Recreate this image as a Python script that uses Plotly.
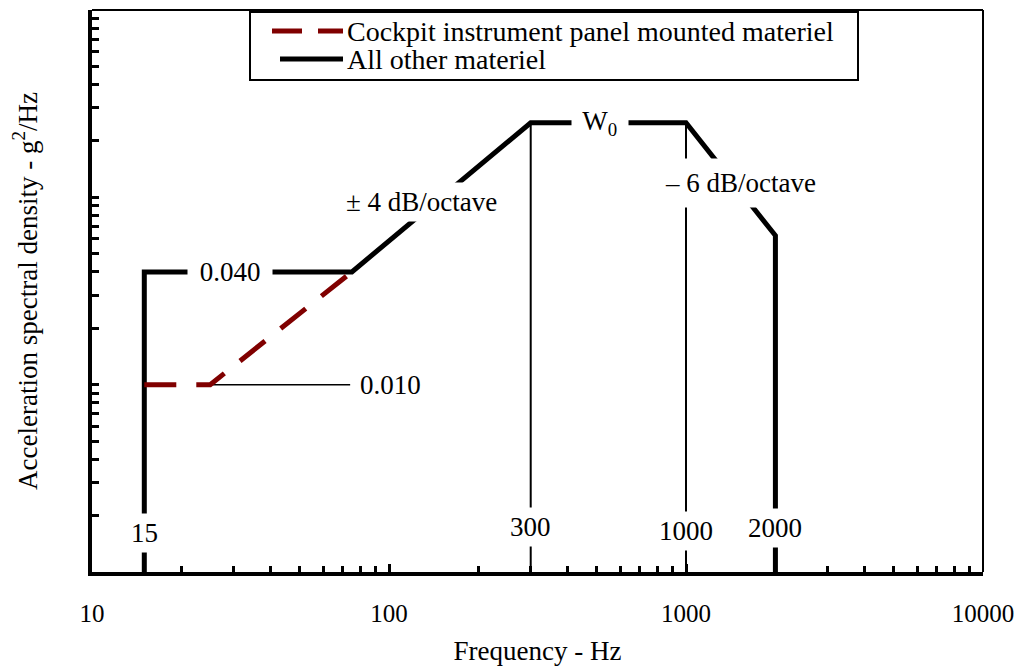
import plotly.graph_objects as go
import numpy as np

# ---- data ----
W0 = 0.25
freq_other = [15, 15, 75, 300, 1000, 2000, 2000]
psd_other = [0.001, 0.04, 0.04, W0, W0, 0.0625, 0.001]

freq_cockpit = [15, 25, 75]
psd_cockpit = [0.01, 0.01, 0.04]

ref_freq = [25, 74]
ref_psd = [0.01, 0.01]

marker_freqs = [300, 1000]      # thin vertical guide lines
marker_top = [W0, W0]

x_tick_vals = [10, 100, 1000, 10000]
x_tick_text = ["10", "100", "1000", "10000"]

legend_names = ["Cockpit instrument panel mounted materiel", "All other materiel"]

FONT = "Liberation Serif"
FS = 27

W, H = 1021, 666
# plot area in pixels
L, R, T, B = 92, 983, 10, 572


def xp(px):
    return (px - L) / (R - L)


def yp(py):
    return (B - py) / (B - T)


fig = go.Figure()

# thin guide lines
for f, top in zip(marker_freqs, marker_top):
    fig.add_trace(go.Scatter(x=[f, f], y=[top, 0.001], mode="lines",
                             line=dict(color="black", width=2),
                             showlegend=False, hoverinfo="skip"))
fig.add_trace(go.Scatter(x=ref_freq, y=ref_psd, mode="lines",
                         line=dict(color="black", width=1.5),
                         showlegend=False, hoverinfo="skip"))

# main curves
fig.add_trace(go.Scatter(x=freq_other, y=psd_other, mode="lines",
                         name=legend_names[1],
                         line=dict(color="black", width=5),
                         showlegend=False))
fig.add_trace(go.Scatter(x=freq_cockpit, y=psd_cockpit, mode="lines",
                         name=legend_names[0],
                         line=dict(color="#800000", width=5, dash="32px,20px"),
                         showlegend=False))

# in-plot labels (position: log10 freq, log10 psd)
labels = [
    (" 0.040 ", np.log10(29.2), np.log10(0.04), 5, True),
    ("± 4 dB/octave", np.log10(129), -1.025, 4, True),
    (" W<sub>0</sub> ", np.log10(513), np.log10(W0), 4, True),
    ("– 6 dB/octave", np.log10(1520), -0.923, 9, True),
    ("15", np.log10(15), -2.792, 4, True),
    ("300", np.log10(300), -2.76, 4, True),
    ("1000", np.log10(1000), -2.781, 4, True),
    ("2000", np.log10(2000), -2.765, 4, True),
    ("0.010", np.log10(101), np.log10(0.01), 0, False),
]
for txt, x, y, pad, bg in labels:
    fig.add_annotation(x=x, y=y, xref="x", yref="y", text=txt, showarrow=False,
                       font=dict(family=FONT, size=FS, color="black"),
                       bgcolor="white" if bg else None, borderpad=pad)

# frame top / right (thin)
fig.add_shape(type="line", xref="paper", yref="paper", x0=0, x1=1, y0=1, y1=1,
              line=dict(color="black", width=2))
fig.add_shape(type="line", xref="paper", yref="paper", x0=1, x1=1, y0=0, y1=1,
              line=dict(color="black", width=2))

# manual legend
fig.add_shape(type="rect", xref="paper", yref="paper",
              x0=xp(250), x1=xp(858), y0=yp(80), y1=yp(12),
              line=dict(color="black", width=2), fillcolor="white")
fig.add_shape(type="line", xref="paper", yref="paper",
              x0=xp(272), x1=xp(343), y0=yp(31), y1=yp(31),
              line=dict(color="#800000", width=5, dash="30px,16px"))
fig.add_shape(type="line", xref="paper", yref="paper",
              x0=xp(280), x1=xp(343), y0=yp(59), y1=yp(59),
              line=dict(color="black", width=5))
for name, py in zip(legend_names, [31, 59]):
    fig.add_annotation(x=xp(345), y=yp(py), xref="paper", yref="paper",
                       xanchor="left", yanchor="middle", text=name, showarrow=False,
                       font=dict(family=FONT, size=28, color="black"))

minor_x = [m * 10 ** d for d in range(1, 4) for m in range(2, 10)]
minor_y = [m * 10.0 ** d for d in range(-3, 0) for m in range(2, 10)]

fig.update_xaxes(type="log", range=[1, 4], showgrid=False, zeroline=False,
                 automargin=False,
                 showline=True, linecolor="black", linewidth=4,
                 ticks="inside", ticklen=8, tickwidth=3, tickcolor="black",
                 tickmode="array", tickvals=x_tick_vals, ticktext=x_tick_text,
                 ticklabelstandoff=16, ticklabeloverflow="allow",
                 tickfont=dict(family=FONT, size=25, color="black"),
                 minor=dict(tickmode="array", tickvals=minor_x, ticks="inside",
                            ticklen=6, tickwidth=3, tickcolor="black", showgrid=False),
                 title=dict(text="Frequency - Hz", standoff=16,
                            font=dict(family=FONT, size=FS, color="black")))
fig.update_yaxes(type="log", range=[-3, 0], showgrid=False, zeroline=False,
                 automargin=False,
                 showline=True, linecolor="black", linewidth=4,
                 ticks="inside", ticklen=7, tickwidth=3, tickcolor="black",
                 tickmode="array", tickvals=[0.001, 0.01, 0.1, 1],
                 showticklabels=False,
                 minor=dict(tickmode="array", tickvals=minor_y, ticks="inside",
                            ticklen=7, tickwidth=3, tickcolor="black", showgrid=False),
                 title=dict(text="Acceleration spectral density - g<sup>2</sup>/Hz",
                            standoff=44,
                            font=dict(family=FONT, size=FS, color="black")))

fig.update_layout(width=W, height=H, margin=dict(l=L, r=W - R, t=T, b=H - B),
                  paper_bgcolor="white", plot_bgcolor="white",
                  font=dict(family=FONT, size=FS, color="black"),
                  showlegend=False)

fig.write_html("out.html",
               config={"displayModeBar": False},
               post_script="var gd=document.getElementById('{plot_id}');"
                           "gd.style.position='fixed';gd.style.left='0px';gd.style.top='0px';"
                           "document.body.style.margin='0';"
                           "document.documentElement.style.overflow='hidden';")
